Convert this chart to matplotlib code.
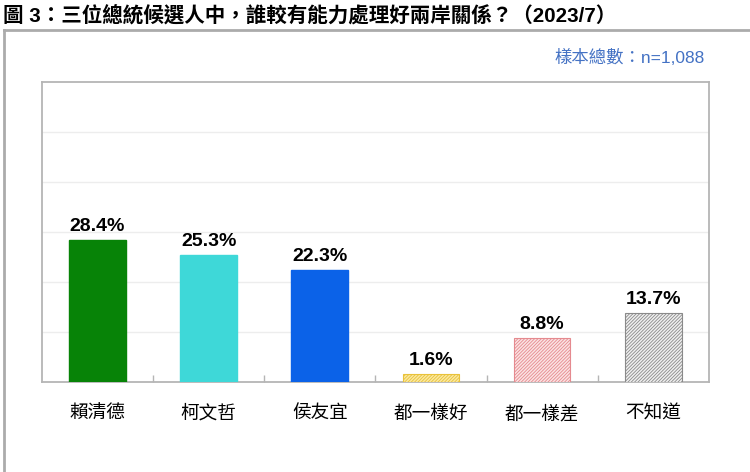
import matplotlib
matplotlib.use('Agg')
import matplotlib.pyplot as plt
from matplotlib.lines import Line2D

plt.rcParams['font.family'] = ['Liberation Sans', 'Noto Sans CJK TC', 'DejaVu Sans']
plt.rcParams['hatch.linewidth'] = 0.6

# data
categories = ['賴清德', '柯文哲', '侯友宜', '都一樣好', '都一樣差', '不知道']
values = [28.4, 25.3, 22.3, 1.6, 8.8, 13.7]
face_colors = ['#078307', '#3ED8D8', '#0B62E8', '#FBE9A0', '#FBE3E3', '#F0F0F0']
hatch_colors = [None, None, None, '#E9C23A', '#E58A8F', '#8A8A8A']
title = '圖 3：三位總統候選人中，誰較有能力處理好兩岸關係？（2023/7）'
sample_note = '樣本總數：n=1,088'

fig = plt.figure(figsize=(7.5, 4.72), dpi=100)

# outer frame (left and top edges only visible)
fig.add_artist(Line2D([0.005, 0.005], [0.0, 0.937], color='#ABABAB', lw=2, transform=fig.transFigure))
fig.add_artist(Line2D([0.005, 1.0], [0.937, 0.937], color='#ABABAB', lw=2, transform=fig.transFigure))

fig.text(0.004, 0.968, title, fontsize=14.8, fontweight='bold', ha='left', va='center')
fig.text(0.94, 0.878, sample_note, fontsize=12.5, color='#4472C4', ha='right', va='center')

ax = fig.add_axes([0.056, 0.191, 0.889, 0.636])
x = list(range(len(categories)))
for i, (v, fc, hc) in enumerate(zip(values, face_colors, hatch_colors)):
    if hc is None:
        ax.bar(i, v, width=0.51, color=fc, edgecolor=fc, zorder=3)
    else:
        ax.bar(i, v, width=0.51, color=fc, edgecolor=hc, hatch='//////////', lw=0.8, zorder=3)
    ax.text(i, v + 1.0, f'{v:.1f}%', ha='center', va='bottom', fontsize=14, fontweight='bold')

ax.set_xlim(-0.5, len(categories) - 0.5)
ax.set_ylim(0, 60)
ax.set_yticks([10, 20, 30, 40, 50])
ax.yaxis.grid(True, color='#EDEDED', lw=1)
ax.set_axisbelow(True)
ax.tick_params(axis='y', length=0, labelleft=False)

ax.set_xticks([i + 0.5 for i in range(len(categories) - 1)])
ax.set_xticklabels([])
ax.tick_params(axis='x', direction='in', length=5, color='#B5B5B5', width=1)
ax.set_xticks(x, minor=True)
ax.set_xticklabels(categories, minor=True, fontsize=13.4)
ax.tick_params(axis='x', which='minor', length=0, pad=17)

for s in ax.spines.values():
    s.set_color('#B5B5B5')
    s.set_linewidth(1.3)

fig.savefig('out.png', dpi=100)
